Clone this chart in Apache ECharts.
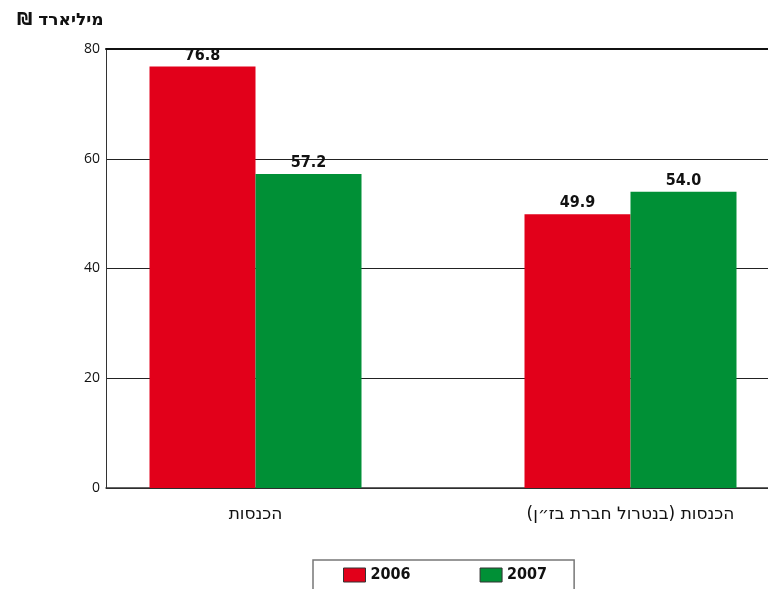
<!DOCTYPE html>
<html>
<head>
<meta charset="utf-8">
<script src="https://cdn.jsdelivr.net/npm/echarts@6/dist/echarts.min.js"></script>
<style>html,body{margin:0;padding:0;background:#fff}#c{width:768px;height:589px}</style>
</head>
<body>
<div id="c" dir="rtl"></div>
<script>
var categories = ['הכנסות', 'הכנסות (בנטרול חברת בז״ן)'];
var seriesNames = ['2006', '2007'];
var values2006 = [76.8, 49.9];
var values2007 = [57.2, 54.0];
var yTicks = [0, 20, 40, 60, 80];
var unitTitle = 'מיליארד ₪';

var chart = echarts.init(document.getElementById('c'));
var labelStyle = {
  show: true, position: 'top', distance: 3,
  fontFamily: 'DejaVu Sans Condensed', fontWeight: 'bold', fontSize: 16, color: '#111',
  formatter: function (p) { return p.value.toFixed(1); }
};
chart.setOption({
  animation: false,
  title: {
    text: unitTitle, left: 12, top: 7,
    textStyle: { fontFamily: 'DejaVu Sans', fontWeight: 'bold', fontSize: 17, color: '#111' }
  },
  legend: {
    data: seriesNames, left: 313, top: 560, icon: 'rect',
    padding: [7, 27, 20, 30], itemGap: 69, itemWidth: 22, itemHeight: 14,
    borderColor: '#777', borderWidth: 1.5,
    itemStyle: { borderColor: '#333', borderWidth: 1 },
    textStyle: { fontFamily: 'DejaVu Sans Condensed', fontWeight: 'bold', fontSize: 16, color: '#111' }
  },
  grid: [
    { left: 106, right: 0, top: 49, bottom: 101 },
    { left: 255.5, right: 137.5, top: 49, bottom: 101 }
  ],
  xAxis: [
    { gridIndex: 0, type: 'category', data: categories, axisLabel: { show: false },
      axisTick: { show: false }, axisLine: { lineStyle: { color: '#333', width: 1.5 } } },
    { gridIndex: 0, type: 'category', position: 'top', data: categories, axisLabel: { show: false },
      axisTick: { show: false }, axisLine: { lineStyle: { color: '#111', width: 2 } } },
    { gridIndex: 1, type: 'category', data: categories, boundaryGap: false,
      axisLine: { show: false }, axisTick: { show: false },
      axisLabel: { margin: 18, fontFamily: 'DejaVu Sans', fontSize: 17, color: '#111' } }
  ],
  yAxis: [
    { gridIndex: 0, type: 'value', min: yTicks[0], max: yTicks[yTicks.length - 1], interval: 20,
      axisLine: { show: true, lineStyle: { color: '#333', width: 1 } }, axisTick: { show: false },
      axisLabel: { margin: 6, fontFamily: 'Open Sans', fontSize: 14, color: '#111' },
      splitLine: { lineStyle: { color: '#222', width: 1 } } },
    { gridIndex: 1, type: 'value', min: 0, max: 80, show: false, splitLine: { show: false } }
  ],
  series: [
    { name: seriesNames[0], type: 'bar', xAxisIndex: 2, yAxisIndex: 1, data: values2006,
      barWidth: 106, barGap: '0%', itemStyle: { color: '#E2001A' }, label: labelStyle },
    { name: seriesNames[1], type: 'bar', xAxisIndex: 2, yAxisIndex: 1, data: values2007,
      barWidth: 106, barGap: '0%', itemStyle: { color: '#009036' }, label: labelStyle }
  ]
});
</script>
</body>
</html>
